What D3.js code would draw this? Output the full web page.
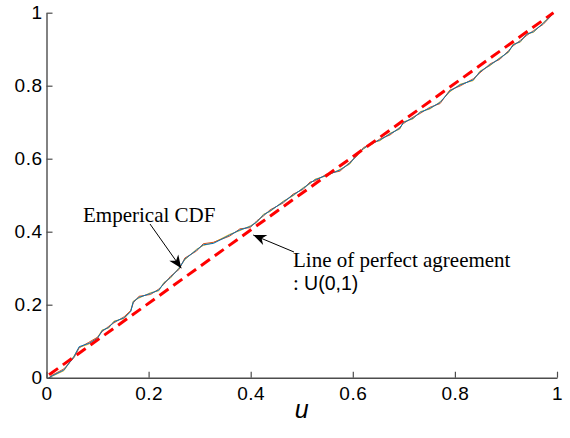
<!DOCTYPE html>
<html>
<head>
<meta charset="utf-8">
<script src="https://cdn.jsdelivr.net/npm/d3@7"></script>
<style>
  html, body { margin: 0; padding: 0; background: #fff; }
  svg { display: block; }
</style>
</head>
<body>
<svg id="chart" width="570" height="438"></svg>
<script>
// Sample points u at which the empirical CDFs are evaluated
const cdfU = [0.005,0.011,0.034,0.054,0.064,0.083,0.100,0.109,0.122,0.132,0.152,0.165,0.170,0.181,0.204,0.220,0.230,0.243,0.260,0.271,0.294,0.307,0.327,0.359,0.379,0.399,0.412,0.425,0.438,0.464,0.483,0.503,0.516,0.526,0.549,0.575,0.594,0.608,0.621,0.637,0.653,0.673,0.692,0.699,0.718,0.732,0.751,0.771,0.790,0.810,0.836,0.849,0.869,0.888,0.905,0.914,0.928,0.941,0.954,0.973,0.993];

// Empirical CDF values of three runs
const runA = [0.000,0.005,0.021,0.058,0.085,0.094,0.108,0.129,0.138,0.153,0.164,0.181,0.208,0.220,0.231,0.240,0.259,0.275,0.300,0.325,0.350,0.364,0.368,0.391,0.405,0.414,0.427,0.446,0.457,0.482,0.500,0.519,0.533,0.542,0.555,0.569,0.587,0.610,0.628,0.642,0.651,0.668,0.683,0.699,0.711,0.727,0.738,0.754,0.785,0.802,0.816,0.838,0.857,0.875,0.893,0.912,0.921,0.941,0.948,0.971,0.998];
const runB = [0.000,0.007,0.024,0.055,0.082,0.097,0.111,0.126,0.141,0.150,0.167,0.184,0.205,0.223,0.228,0.243,0.256,0.278,0.297,0.328,0.347,0.367,0.371,0.388,0.408,0.411,0.430,0.443,0.460,0.479,0.503,0.516,0.536,0.539,0.558,0.566,0.590,0.607,0.631,0.639,0.654,0.665,0.686,0.696,0.714,0.724,0.741,0.751,0.788,0.799,0.819,0.835,0.860,0.872,0.896,0.909,0.924,0.938,0.951,0.968,0.998];
const runC = [0.000,0.004,0.019,0.060,0.083,0.092,0.110,0.131,0.136,0.155,0.162,0.183,0.210,0.218,0.233,0.238,0.261,0.273,0.302,0.323,0.352,0.362,0.370,0.393,0.403,0.416,0.425,0.448,0.455,0.484,0.498,0.521,0.531,0.544,0.553,0.571,0.585,0.612,0.626,0.644,0.649,0.670,0.681,0.701,0.709,0.729,0.736,0.756,0.783,0.804,0.814,0.840,0.855,0.877,0.891,0.914,0.919,0.943,0.946,0.973,0.998];
const runColors = ["#EDB120", "#D95319", "#0072BD"];

// Reference line of perfect agreement U(0,1)
const agreeU = [0.005, 0.993];
const agreeF = [0.008, 1.000];

// Axis ticks
const tickValues = [0, 0.2, 0.4, 0.6, 0.8, 1];
const tickLabels = ["0", "0.2", "0.4", "0.6", "0.8", "1"];

// Annotation anchor points (u, F) on the curves
const cdfNote = { u: 0.264, F: 0.300, text: "Emperical CDF" };
const lineNote = { u: 0.405, F: 0.391, text: "Line of perfect agreement", sub: "U(0,1)" };

const svg = d3.select("#chart");
const x = d3.scaleLinear().domain([0, 1]).range([46.5, 557]);
const y = d3.scaleLinear().domain([0, 1]).range([377.7, 12.7]);

const sansFont = "'Liberation Sans', Arial, Helvetica, sans-serif";
const serifFont = "'Liberation Serif', 'Times New Roman', serif";

// Empirical CDF runs
const line = d3.line().x(d => x(d[0])).y(d => y(d[1]));
[runC, runB, runA].forEach((run, i) => {
  svg.append("path")
    .datum(cdfU.map((u, k) => [u, run[k]]))
    .attr("d", line)
    .attr("fill", "none")
    .attr("stroke", runColors[i])
    .attr("stroke-width", 1)
    .attr("stroke-linejoin", "round");
});

// Dashed diagonal
svg.append("path")
  .datum(agreeU.map((u, k) => [u, agreeF[k]]))
  .attr("d", line)
  .attr("fill", "none")
  .attr("stroke", "#ff0000")
  .attr("stroke-width", 3)
  .attr("stroke-dasharray", "11,6");

// Axes (ticks pointing into the plot)
const fmt = d => tickLabels[tickValues.indexOf(d)];
const xAxis = svg.append("g")
  .attr("transform", `translate(0,${y(0)})`)
  .call(d3.axisBottom(x).tickValues(tickValues).tickFormat(fmt)
        .tickSizeInner(-6).tickSizeOuter(0).tickPadding(9));
const yAxis = svg.append("g")
  .attr("transform", `translate(${x(0)},0)`)
  .call(d3.axisLeft(y).tickValues(tickValues).tickFormat(fmt)
        .tickSizeInner(-6).tickSizeOuter(0).tickPadding(4));

[xAxis, yAxis].forEach(g => {
  g.select(".domain").attr("stroke", "#4d4d4d").attr("stroke-width", 1.4);
  g.selectAll(".tick line").attr("stroke", "#4d4d4d").attr("stroke-width", 1.2);
  g.selectAll(".tick text")
    .attr("fill", "#000")
    .style("font-family", sansFont)
    .style("font-size", "19px")
    .style("letter-spacing", "0.5px");
});

// Axis title
svg.append("text")
  .attr("x", x(0.5))
  .attr("y", 418)
  .attr("text-anchor", "middle")
  .style("font-family", sansFont)
  .style("font-style", "italic")
  .style("font-size", "25px")
  .text("u");

// Arrow with a filled, notched head
function arrow(x0, y0, x1, y1) {
  svg.append("line")
    .attr("x1", x0).attr("y1", y0).attr("x2", x1).attr("y2", y1)
    .attr("stroke", "#000").attr("stroke-width", 1);
  const dx = x1 - x0, dy = y1 - y0, len = Math.hypot(dx, dy);
  const ux = dx / len, uy = dy / len, px = -uy, py = ux;
  const L = 13, W = 5.5;
  const pts = [
    [x1, y1],
    [x1 - L * ux + W * px, y1 - L * uy + W * py],
    [x1 - 0.7 * L * ux, y1 - 0.7 * L * uy],
    [x1 - L * ux - W * px, y1 - L * uy - W * py]
  ];
  svg.append("path")
    .attr("d", "M" + pts.map(p => p.join(",")).join("L") + "Z")
    .attr("fill", "#000");
}

// "Emperical CDF" annotation
svg.append("text")
  .attr("x", 83).attr("y", 222)
  .style("font-family", serifFont)
  .style("font-size", "21px")
  .text(cdfNote.text);
arrow(150, 224, x(cdfNote.u), y(cdfNote.F));

// Line of perfect agreement annotation
svg.append("text")
  .attr("x", 293).attr("y", 266.5)
  .style("font-family", serifFont)
  .style("font-size", "21px")
  .text(lineNote.text);
const sub = svg.append("text")
  .attr("x", 293).attr("y", 290)
  .style("font-size", "21px");
sub.append("tspan").style("font-family", serifFont).text(": ");
sub.append("tspan").style("font-family", sansFont).style("font-size", "19.5px").text(lineNote.sub);
arrow(294, 252, x(lineNote.u), y(lineNote.F));
</script>
</body>
</html>
